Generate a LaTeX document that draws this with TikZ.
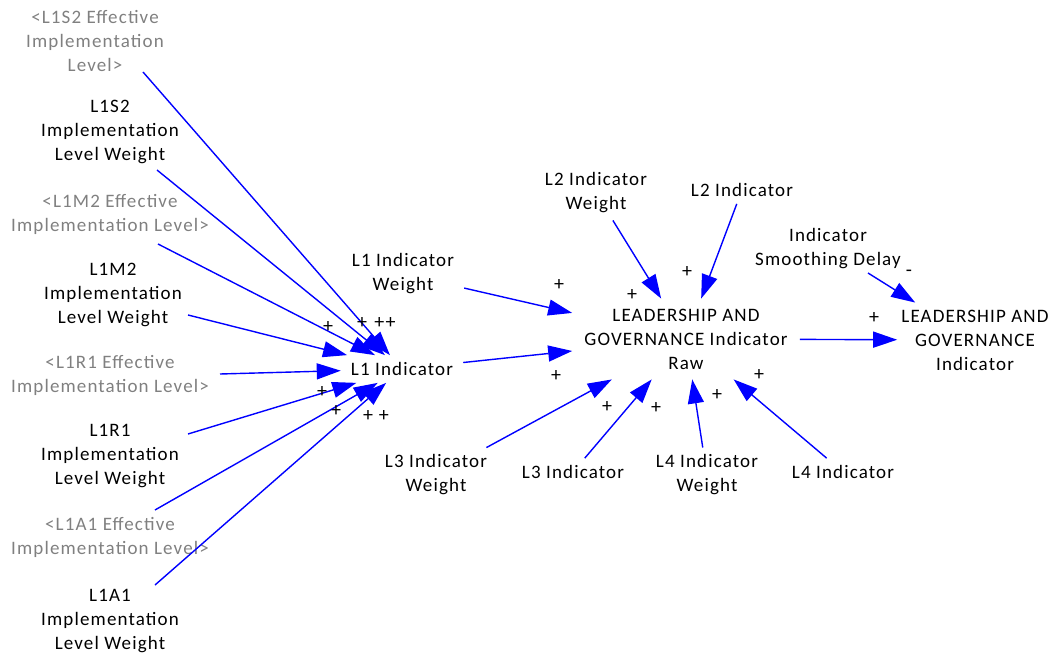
\documentclass[tikz,border=0pt]{standalone}
\usepackage{fontspec}
\setmainfont{Carlito}[LetterSpace=6]
\usetikzlibrary{arrows.meta,calc}
\definecolor{linkblue}{RGB}{0,0,255}
\definecolor{shadowgray}{RGB}{128,128,128}

\begin{document}
\begin{tikzpicture}[x=1pt,y=-1pt,
  var/.style={align=center, inner xsep=10pt, inner ysep=7pt, font=\fontsize{19}{24}\selectfont},
  shadowvar/.style={var, text=shadowgray},
  link/.style={draw=linkblue, line width=1.4pt, -{Triangle[length=24pt,width=16pt]}},
  pol/.style={font=\fontsize{20}{22}\selectfont, inner sep=0pt}]
\useasboundingbox (0,0) rectangle (1053,658);

% ---- L1 inputs (left column)
\node[shadowvar] (s2e) at (95,41)  {<L1S2 Effective\\Implementation\\Level>};
\node[var]       (s2w) at (110,132) {L1S2\\Implementation\\Level Weight};
\node[shadowvar] (m2e) at (110,214) {<L1M2 Effective\\Implementation Level>};
\node[var]       (m2w) at (113,295) {L1M2\\Implementation\\Level Weight};
\node[shadowvar] (r1e) at (110,375) {<L1R1 Effective\\Implementation Level>};
\node[var]       (r1w) at (110,456) {L1R1\\Implementation\\Level Weight};
\node[shadowvar] (a1e) at (110,537) {<L1A1 Effective\\Implementation Level>};
\node[var]       (a1w) at (110,621) {L1A1\\Implementation\\Level Weight};

% ---- indicators
\node[var] (l1)   at (402,369) {L1 Indicator};
\node[var] (l1w)  at (403,274) {L1 Indicator\\Weight};
\node[var] (l2w)  at (596,193) {L2 Indicator\\Weight};
\node[var] (l2)   at (742,190) {L2 Indicator};
\node[var] (l3w)  at (436,475) {L3 Indicator\\Weight};
\node[var] (l3)   at (573,472) {L3 Indicator};
\node[var] (l4w)  at (707,475) {L4 Indicator\\Weight};
\node[var] (l4)   at (843,472) {L4 Indicator};
\node[var, inner xsep=12pt, inner ysep=10pt] (raw) at (686,339) {LEADERSHIP AND\\GOVERNANCE Indicator\\Raw};
\node[var, inner ysep=4pt] (delay) at (828,249) {Indicator\\Smoothing Delay};
\node[var, inner xsep=4pt] (lg) at (975,340) {LEADERSHIP AND\\GOVERNANCE\\Indicator};

% ---- links into L1 Indicator
\draw[link] ($(s2e)+(48,31)$) -- (l1);
\draw[link] ($(s2w)+(47,38)$) -- (l1);
\draw[link] ($(m2e)+(48,30)$) -- (l1);
\draw[link] ($(m2w)+(75,20)$) -- (l1);
\draw[link] ($(r1e)+(110,-1)$) -- (l1);
\draw[link] ($(r1w)+(78,-22)$) -- (l1);
\draw[link] ($(a1e)+(45,-27)$) -- (l1);
\draw[link] ($(a1w)+(45,-36)$) -- (l1);

% ---- links into the raw indicator
\draw[link] (l1) -- (raw);
\draw[link] (l1w) -- (raw);
\draw[link] (l2w) -- (raw);
\draw[link] (l2) -- (raw);
\draw[link] (l3w) -- (raw);
\draw[link] (l3) -- (raw);
\draw[link] (l4w) -- (raw);
\draw[link] (l4) -- (raw);

% ---- smoothing
\draw[link] (raw) -- (lg);
\draw[link] ($(delay)+(40,24)$) -- (lg);

% ---- polarities
\node[pol] (p1)  at (328,327) {+};
\node[pol] (p2)  at (362,323) {+};
\node[pol] (p3)  at (385,323) {++};
\node[pol] (p4)  at (322,392) {+};
\node[pol] (p5)  at (336,411) {+};
\node[pol] (p6)  at (376,416) {+ +};
\node[pol] (p7)  at (559,285) {+};
\node[pol] (p8)  at (632,295) {+};
\node[pol] (p9)  at (687,272) {+};
\node[pol] (p10) at (556,376) {+};
\node[pol] (p11) at (607,407) {+};
\node[pol] (p12) at (656,408) {+};
\node[pol] (p13) at (717,395) {+};
\node[pol] (p14) at (759,375) {+};
\node[pol] (p15) at (874,318) {+};
\node[pol] (p16) at (909,273) {-};
\end{tikzpicture}
\end{document}
